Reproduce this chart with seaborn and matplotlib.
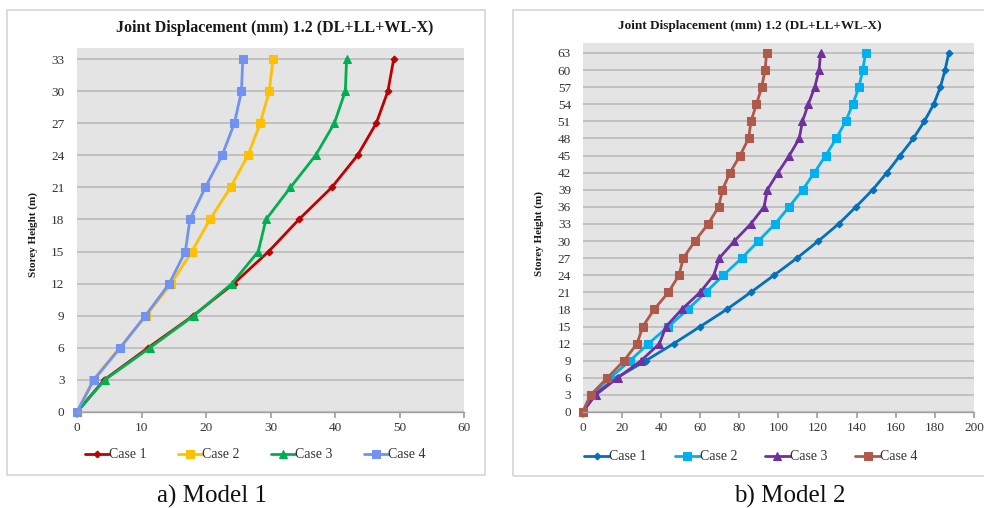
import matplotlib
matplotlib.use("Agg")
import matplotlib.pyplot as plt
import seaborn as sns
import numpy as np
from matplotlib.patches import Rectangle

sns.set_theme(style="white")
plt.rcParams['font.family'] = ['Liberation Serif', 'DejaVu Serif']

# ---------------- data ----------------
cases = ["Case 1", "Case 2", "Case 3", "Case 4"]

m1_height = [0, 3, 6, 9, 12, 15, 18, 21, 24, 27, 30, 33]
m1_case1 = [0, 4.2, 11.0, 18.0, 24.3, 29.7, 34.4, 39.5, 43.5, 46.4, 48.2, 49.1]
m1_case2 = [0, 2.5, 6.6, 10.7, 14.6, 17.8, 20.6, 23.8, 26.5, 28.4, 29.8, 30.4]
m1_case3 = [0, 4.3, 11.3, 18.1, 24.0, 28.1, 29.3, 33.1, 37.0, 39.9, 41.6, 41.8]
m1_case4 = [0, 2.6, 6.7, 10.6, 14.3, 16.8, 17.5, 19.9, 22.5, 24.4, 25.5, 25.7]

m2_height = [0, 3, 6, 9, 12, 15, 18, 21, 24, 27, 30, 33, 36, 39, 42, 45, 48, 51, 54, 57, 60, 63]
m2_case1 = [0, 5.5, 17.4, 32.2, 46.5, 60.1, 73.6, 85.9, 97.8, 109.5, 120.4, 130.8,
            139.7, 148.2, 155.5, 162.2, 169.0, 174.6, 179.4, 182.8, 185.2, 187.1]
m2_case2 = [0, 4.1, 14.0, 24.2, 33.6, 43.8, 53.7, 62.9, 71.9, 81.3, 89.8, 98.3,
            105.5, 112.4, 118.4, 124.2, 129.6, 134.4, 138.0, 141.2, 143.1, 144.6]
m2_case3 = [0, 6.6, 17.9, 29.8, 39.2, 42.6, 50.6, 60.0, 67.0, 69.8, 77.5, 85.9,
            92.7, 94.4, 99.8, 105.6, 110.7, 112.3, 115.3, 118.6, 120.8, 121.6]
m2_case4 = [0, 4.1, 12.6, 21.1, 27.8, 30.7, 36.5, 43.8, 49.2, 51.4, 57.4, 64.1,
            69.5, 71.4, 75.3, 80.4, 84.8, 86.0, 88.8, 91.5, 93.2, 94.0]

title = "Joint Displacement (mm) 1.2 (DL+LL+WL-X)"
ylabel = "Storey Height (m)"
m1_xticks = [0, 10, 20, 30, 40, 50, 60]
m1_yticks = list(range(0, 34, 3))
m2_xticks = list(range(0, 201, 20))
m2_yticks = list(range(0, 64, 3))

m1_colors = ["#C00000", "#FFC000", "#00B050", "#7092F2"]
m2_colors = ["#0070C0", "#00B0F0", "#7030A0", "#B0584A"]
markers = ["D", "s", "^", "s"]
msizes1 = [3.5, 5.5, 5.5, 5.5]
msizes2 = [3.5, 5.2, 5.2, 5.2]

W, H = 984, 508
fig = plt.figure(figsize=(W / 100, H / 100), dpi=100)
fig.patch.set_facecolor("white")

def fx(px):
    return px / W

def fy(py):
    return 1 - py / H

# panel frames
fig.patches.append(Rectangle((fx(7), fy(475)), fx(485 - 7), (475 - 10) / H,
                             transform=fig.transFigure, fill=False,
                             edgecolor="#D6D6D6", linewidth=1.2))
fig.patches.append(Rectangle((fx(513), fy(476)), fx(990 - 513), (476 - 10) / H,
                             transform=fig.transFigure, fill=False,
                             edgecolor="#D6D6D6", linewidth=1.2))

def setup(ax, xticks, yticks, xlim, ylim, tickfs, ypad):
    ax.set_facecolor("#E4E4E4")
    ax.set_xlim(*xlim)
    ax.set_ylim(*ylim)
    ax.set_xticks(xticks)
    ax.set_yticks(yticks)
    ax.yaxis.grid(True, color="#BEBEBE", linewidth=1.3)
    ax.xaxis.grid(False)
    ax.set_axisbelow(True)
    for s in ["top", "right", "left"]:
        ax.spines[s].set_visible(False)
    ax.spines["bottom"].set_color("#A0A0A0")
    ax.spines["bottom"].set_linewidth(1.0)
    ax.tick_params(axis="x", bottom=True, length=4, color="#A0A0A0",
                   labelsize=tickfs, pad=3, labelcolor="#333333")
    ax.tick_params(axis="y", left=False, length=0, labelsize=tickfs, pad=ypad,
                   labelcolor="#333333")
    ax.set_xlabel("")
    ax.set_ylabel("")

# ---------- Model 1 ----------
ax1 = fig.add_axes([fx(77), fy(412), fx(464 - 77), (412 - 48) / H])
m1_series = [m1_case1, m1_case2, m1_case3, m1_case4]
for name, xs, c, mk, ms in zip(cases, m1_series, m1_colors, markers, msizes1):
    sns.lineplot(x=xs, y=m1_height, ax=ax1, sort=False, estimator=None,
                 color=c, marker=mk, markersize=ms, linewidth=2.0,
                 markeredgecolor=c, label=name, legend=False, clip_on=False)
setup(ax1, m1_xticks, m1_yticks, (0, 60), (0, 34.03), 9.5, 9)
fig.text(fx(275), fy(28), title, ha="center", va="center",
         fontsize=11.5, fontweight="bold", color="#1a1a1a")
fig.text(fx(33), fy(234), ylabel, ha="center", va="center", rotation=90,
         fontsize=8, fontweight="bold", color="#1a1a1a")
h1, l1 = ax1.get_legend_handles_labels()
fig.legend(h1, l1, loc="center", bbox_to_anchor=(fx(255), fy(455)), ncol=4,
           frameon=False, fontsize=10, handlelength=1.7, handletextpad=0.0,
           columnspacing=2.3, labelcolor="#333333")
fig.text(fx(212), fy(496), "a) Model 1", ha="center", va="center",
         fontsize=18, color="#111111")

# ---------- Model 2 ----------
ax2 = fig.add_axes([fx(582.7), fy(412), fx(974 - 582.7), (412 - 43) / H])
m2_series = [m2_case1, m2_case2, m2_case3, m2_case4]
for name, xs, c, mk, ms in zip(cases, m2_series, m2_colors, markers, msizes2):
    sns.lineplot(x=xs, y=m2_height, ax=ax2, sort=False, estimator=None,
                 color=c, marker=mk, markersize=ms, linewidth=2.0,
                 markeredgecolor=c, label=name, legend=False, clip_on=False)
setup(ax2, m2_xticks, m2_yticks, (0, 200), (0, 64.75), 9.5, 8.5)
fig.text(fx(750), fy(26), title, ha="center", va="center",
         fontsize=9.5, fontweight="bold", color="#1a1a1a")
fig.text(fx(539), fy(233), ylabel, ha="center", va="center", rotation=90,
         fontsize=8, fontweight="bold", color="#1a1a1a")
h2, l2 = ax2.get_legend_handles_labels()
fig.legend(h2, l2, loc="center", bbox_to_anchor=(fx(751), fy(457)), ncol=4,
           frameon=False, fontsize=10, handlelength=1.8, handletextpad=0.0,
           columnspacing=2.0, labelcolor="#333333")
fig.text(fx(790), fy(496), "b) Model 2", ha="center", va="center",
         fontsize=18, color="#111111")

fig.savefig("out.png", dpi=100, facecolor="white")
